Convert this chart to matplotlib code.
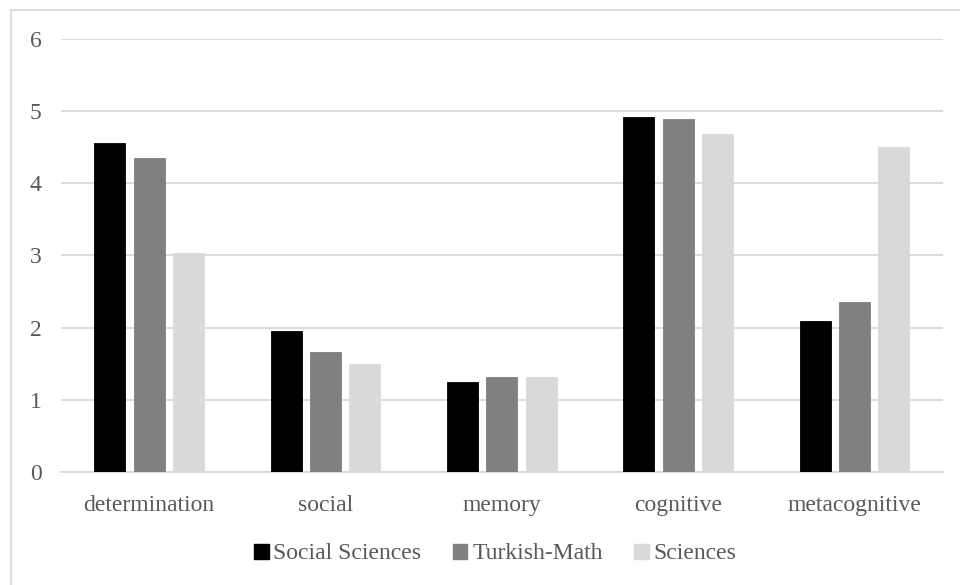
import matplotlib.pyplot as plt
import matplotlib.patches as mpatches
import numpy as np

plt.rcParams['font.family'] = ['Liberation Serif', 'DejaVu Serif']

# ---------------- DATA ----------------
categorias = ['determination', 'social', 'memory', 'cognitive', 'metacognitive']
series = ['Social Sciences', 'Turkish-Math', 'Sciences']
social_sciences = [4.56, 1.95, 1.24, 4.92, 2.09]
turkish_math = [4.35, 1.66, 1.31, 4.90, 2.35]
sciences = [3.03, 1.49, 1.32, 4.68, 4.51]
valores = [social_sciences, turkish_math, sciences]
cores = ['#000000', '#808080', '#d9d9d9']
texto = '#595959'

# ---------------- PLOT ----------------
fig = plt.figure(figsize=(9.6, 5.85), dpi=100)
ax = fig.add_axes([0.0635, 0.1937, 0.9185, 0.7391])

x = np.arange(len(categorias))
largura = 0.176
passo = 0.223

for i, (vals, cor) in enumerate(zip(valores, cores)):
    ax.bar(x + (i - 1) * passo, vals, width=largura, color=cor,
           edgecolor=cor, linewidth=0.6, label=series[i], zorder=3)

ax.set_xlim(-0.5, len(categorias) - 0.5)
ax.set_ylim(0, 6)
ax.set_yticks(range(0, 7))
ax.set_xticks(x)
ax.set_xticklabels(categorias)

ax.grid(axis='y', color='#d9d9d9', linewidth=1.3, zorder=0)
for lado in ['top', 'right', 'left']:
    ax.spines[lado].set_visible(False)
ax.spines['bottom'].set_color('#d9d9d9')
ax.spines['bottom'].set_linewidth(1.3)

ax.tick_params(axis='both', length=0, labelsize=17, labelcolor=texto)
ax.tick_params(axis='y', pad=14)
ax.tick_params(axis='x', pad=16.5)

# legenda
handles = [mpatches.Patch(color=c, label=s) for c, s in zip(cores, series)]
fig.legend(handles=handles, loc='center', bbox_to_anchor=(0.516, 0.053),
           ncol=3, frameon=False, fontsize=17, handlelength=0.6,
           handleheight=0.6, handletextpad=0.2, columnspacing=1.35,
           labelcolor=texto)

# borda do gráfico
borda = mpatches.Rectangle((11 / 960, -0.1), 1.2, 0.1 + 1 - 10 / 585,
                           transform=fig.transFigure, fill=False,
                           edgecolor='#d9d9d9', linewidth=1.3)
fig.patches.append(borda)

fig.savefig('out.png', dpi=100)
